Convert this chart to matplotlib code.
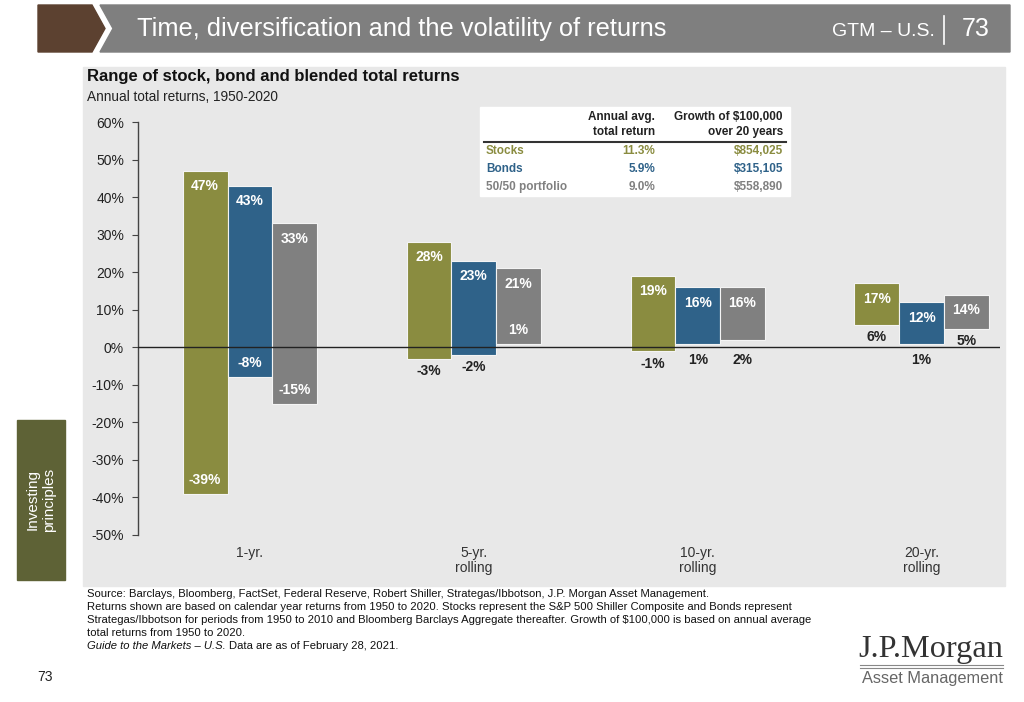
import numpy as np
import matplotlib
matplotlib.use("Agg")
import matplotlib.pyplot as plt
from matplotlib.patches import Polygon, Rectangle

# Data
periods = ["1-yr.", "5-yr.\nrolling", "10-yr.\nrolling", "20-yr.\nrolling"]
series = ["Stocks", "Bonds", "50/50 portfolio"]
stock_high = [47, 28, 19, 17]
stock_low = [-39, -3, -1, 6]
bond_high = [43, 23, 16, 12]
bond_low = [-8, -2, 1, 1]
blend_high = [33, 21, 16, 14]
blend_low = [-15, 1, 2, 5]
# whether the low-end label sits inside the bar
stock_low_inside = [True, False, False, False]
bond_low_inside = [True, False, False, False]
blend_low_inside = [True, True, False, False]
avg_return = ["11.3%", "5.9%", "9.0%"]
growth_20yr = ["$854,025", "$315,105", "$558,890"]

colors = ["#8A8C40", "#2F6289", "#808080"]
W, H = 1024, 702
SANS = ["Liberation Sans", "DejaVu Sans"]
plt.rcParams["font.family"] = SANS


def px(x, y):
    return (x / W, 1 - y / H)


fig = plt.figure(figsize=(W / 100, H / 100), dpi=100)
fig.patch.set_facecolor("white")

# header band
fig.patches.append(Polygon([px(38, 5), px(92, 5), px(105, 28.5), px(92, 52), px(38, 52)],
                           closed=True, transform=fig.transFigure, color="#5C4130"))
fig.patches.append(Polygon([px(100, 5), px(1010, 5), px(1010, 52), px(100, 52), px(113, 28.5)],
                           closed=True, transform=fig.transFigure, color="#7F7F7F"))
fig.text(*px(137, 29), "Time, diversification and the volatility of returns", color="white",
         fontsize=18.3, va="center", ha="left")
fig.text(*px(935, 31), "GTM \u2013 U.S.", color="white", fontsize=14, va="center", ha="right")
fig.lines.append(plt.Line2D([944 / W, 944 / W], [1 - 16 / H, 1 - 44 / H],
                            transform=fig.transFigure, color="white", lw=1.2))
fig.text(*px(976, 29), "73", color="white", fontsize=18, va="center", ha="center")

# light grey chart panel
fig.patches.append(Rectangle(px(83, 586), 922 / W, 519 / H, transform=fig.transFigure,
                             color="#E8E8E8", zorder=-1))

# side tab
fig.patches.append(Rectangle(px(17, 580), 48 / W, 160 / H, transform=fig.transFigure,
                             color="#5E6236"))
fig.text(*px(41, 500), "Investing\nprinciples", color="white", fontsize=11, rotation=90,
         ha="center", va="center", linespacing=1.25)

fig.text(*px(87, 77), "Range of stock, bond and blended total returns", fontsize=12,
         fontweight="bold", color="#111111", va="center")
fig.text(*px(87, 97), "Annual total returns, 1950-2020", fontsize=9.8,
         color="#222222", va="center")

# main axes
ax = fig.add_axes([138 / W, 1 - 535 / H, (1000 - 138) / W, (535 - 122) / H])
ax.set_facecolor("none")
x = np.arange(len(periods))
bw = 0.2
highs = [stock_high, bond_high, blend_high]
lows = [stock_low, bond_low, blend_low]
inside = [stock_low_inside, bond_low_inside, blend_low_inside]
lbl = dict(ha="center", fontweight="bold", fontsize=10, zorder=4, textcoords="offset points")
for k in range(3):
    hi = np.array(highs[k])
    lo = np.array(lows[k])
    xs = x + (k - 1) * bw
    ax.bar(xs, hi - lo, bottom=lo, width=bw, color=colors[k], edgecolor="#F4F4F4",
           linewidth=0.8, zorder=2)
    for xi, h, l, ins in zip(xs, hi, lo, inside[k]):
        ax.annotate(f"{h}%", (xi, h), xytext=(0, -6), va="top", color="white", **lbl)
        if ins:
            ax.annotate(f"{l}%", (xi, l), xytext=(0, 5), va="bottom", color="white", **lbl)
        else:
            # keep small positive lows clear of the zero line
            anchor = 0 if 0 <= l < 4 else l
            ax.annotate(f"{l}%", (xi, anchor), xytext=(0, -4), va="top", color="#222222", **lbl)

ax.axhline(0, color="#222222", lw=1.0, zorder=3)
ax.set_xlim(-0.5, 3.35)
ax.set_ylim(-50, 60)
ax.set_yticks(np.arange(-50, 61, 10))
ax.set_yticklabels([f"{v}%" for v in range(-50, 61, 10)])
ax.set_xticks(x)
ax.set_xticklabels(periods)
for s in ["top", "right", "bottom"]:
    ax.spines[s].set_visible(False)
ax.spines["left"].set_color("#444444")
ax.spines["left"].set_linewidth(1.0)
ax.tick_params(axis="y", direction="out", length=4, color="#444444", labelsize=10,
               labelcolor="#222222", pad=6)
ax.tick_params(axis="x", length=0, labelsize=10, labelcolor="#333333", pad=8)
for t in ax.get_xticklabels():
    t.set_linespacing(1.12)

# summary table
fig.patches.append(Rectangle(px(480, 196), 310 / W, 89 / H, transform=fig.transFigure,
                             color="white", zorder=1))
hdr = dict(fontsize=8.5, fontweight="bold", color="#222222", ha="right", va="center")
fig.text(*px(655, 117), "Annual avg.", **hdr)
fig.text(*px(655, 132), "total return", **hdr)
fig.text(*px(783, 117), "Growth of $100,000", **hdr)
fig.text(*px(783, 132), "over 20 years", **hdr)
fig.lines.append(plt.Line2D([484 / W, 786 / W], [1 - 141.5 / H] * 2, transform=fig.transFigure,
                            color="#333333", lw=1.5))
for i, name in enumerate(series):
    yy = 151 + i * 18
    fig.text(*px(486, yy), name, fontsize=8.5, fontweight="bold", color=colors[i],
             ha="left", va="center")
    fig.text(*px(655, yy), avg_return[i], fontsize=8.5, fontweight="bold", color=colors[i],
             ha="right", va="center")
    fig.text(*px(783, yy), growth_20yr[i], fontsize=8.5, fontweight="bold", color=colors[i],
             ha="right", va="center")

# footnotes
notes = ("Source: Barclays, Bloomberg, FactSet, Federal Reserve, Robert Shiller, Strategas/Ibbotson, "
         "J.P. Morgan Asset Management.\n"
         "Returns shown are based on calendar year returns from 1950 to 2020. Stocks represent the S&P 500 "
         "Shiller Composite and Bonds represent\n"
         "Strategas/Ibbotson for periods from 1950 to 2010 and Bloomberg Barclays Aggregate thereafter. "
         "Growth of $100,000 is based on annual average\n"
         "total returns from 1950 to 2020.")
fig.text(*px(87, 589), notes, fontsize=8.1, color="#111111", va="top",
         ha="left", linespacing=1.38)
guide = fig.text(*px(87, 646), "Guide to the Markets \u2013 U.S.", fontsize=8.1,
                 style="italic", color="#111111", va="center")
renderer = fig.canvas.get_renderer()
gx = guide.get_window_extent(renderer).x1
fig.text(gx / W + 3 / W, 1 - 646 / H, "Data are as of February 28, 2021.", fontsize=8.1,
         color="#111111", va="center")

fig.text(*px(37, 677), "73", fontsize=10, color="#222222", va="center")
fig.text(*px(1003, 650), "J.P.Morgan", fontsize=23.3, family=["Liberation Serif", "DejaVu Serif"],
         color="#333333", ha="right", va="center")
fig.lines.append(plt.Line2D([860 / W, 1003 / W], [1 - 665 / H] * 2, transform=fig.transFigure,
                            color="#888888", lw=0.8))
fig.lines.append(plt.Line2D([860 / W, 1003 / W], [1 - 667.5 / H] * 2, transform=fig.transFigure,
                            color="#888888", lw=0.8))
fig.text(*px(1003, 678), "Asset Management", fontsize=11.8, color="#666666",
         ha="right", va="center")

fig.savefig("out.png", dpi=100)
